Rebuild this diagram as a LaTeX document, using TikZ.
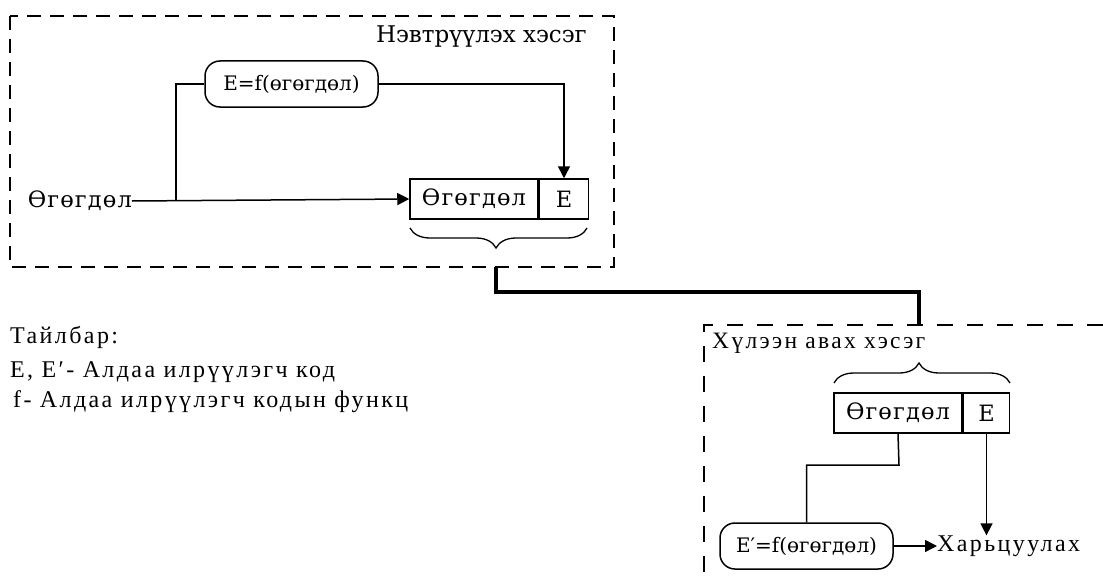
\documentclass[tikz,border=0pt]{standalone}
\usepackage{fontspec}
\setmainfont{Liberation Serif}
\newfontfamily\slabf{DejaVu Serif}
\newfontfamily\slabwf[LetterSpace=5]{DejaVu Serif}
\newfontfamily\widef[LetterSpace=10]{Liberation Serif}
\usetikzlibrary{arrows.meta,decorations.pathreplacing}
\begin{document}
\begin{tikzpicture}[x=1pt,y=-1pt,
  every node/.style={inner sep=0pt},
  slabtxt/.style={font=\slabwf\fontsize{22.5}{24}\selectfont},
  serftxt/.style={font=\widef\fontsize{24}{26}\selectfont},
  zone/.style={draw,line width=1.3pt,dash pattern=on 14pt off 9pt},
  zonelow/.style={draw,line width=1.3pt,dash pattern=on 16pt off 14pt},
  wire/.style={draw,line width=1.5pt},
  arr/.style={wire,-{Triangle[length=12pt,width=12pt]}},
  cell/.style={draw,line width=1.5pt,slabtxt,minimum height=40pt},
  func/.style={draw,line width=1.5pt,rounded corners=15pt,font=\slabf\fontsize{20}{22}\selectfont,minimum width=173pt,minimum height=46pt},
  thick link/.style={draw,line width=3.5pt},
  bracket/.style={draw,line width=1.3pt,decorate,decoration={brace,amplitude=20pt}}]
\useasboundingbox (0,0) rectangle (1103,578);

% transmitting side
\path[zone] (10,16) rectangle (614,267);
\node[font=\slabf\fontsize{23}{24}\selectfont,anchor=east] (txtitle) at (587,37) {Нэвтрүүлэх хэсэг};
\node[func] (f1) at (291.5,84) {E=f(өгөгдөл)};
\node[slabtxt,anchor=east] (src) at (132,201) {Өгөгдөл};
\node[cell,minimum width=128pt] (d1) at (474,199) {Өгөгдөл};
\node[cell,minimum width=49pt,anchor=west] (e1) at (d1.east) {E};
\coordinate (split) at (176,201);
\path[arr] (src.east) -- (d1.west);
\path[wire] (split) |- (f1.west);
\path[arr] (f1.east) -| (e1.north);
\path[bracket,decoration={aspect=0.514}] (587,228) -- (410,228);

% link between the two sides
\coordinate (out) at (496,267);
\coordinate (in) at (919,325);
\path[thick link] (out) -- (496,292) -| (in);

% receiving side
\path[zonelow] (1103,325) -- (704,325) -- (704,578);
\node[font=\widef\fontsize{23.5}{25}\selectfont,anchor=west] (rxtitle) at (712,343) {Хүлээн авах хэсэг};
\path[bracket,decoration={aspect=0.483}] (834,383) -- (1010,383);
\node[cell,minimum width=128pt] (d2) at (898,413) {Өгөгдөл};
\node[cell,minimum width=46pt,anchor=west] (e2) at (d2.east) {E};
\node[func] (f2) at (806.5,546) {E′=f(өгөгдөл)};
\node[font=\widef\fontsize{24}{26}\selectfont,anchor=west] (cmp) at (937,546) {Харьцуулах};
\path[wire] (d2.south) -- (899,465) -| (f2.north);
\path[arr] (f2.east) -- (cmp.west);
\path[arr] (e2.south) -- (e2.south |- cmp.north);

% legend
\node[serftxt,anchor=west] (lg1) at (10,337) {Тайлбар:};
\node[serftxt,anchor=west] (lg2) at (10,372) {E, E′- Алдаа илрүүлэгч код};
\node[serftxt,anchor=west] (lg3) at (13,402) {f- Алдаа илрүүлэгч кодын функц};
\end{tikzpicture}
\end{document}
